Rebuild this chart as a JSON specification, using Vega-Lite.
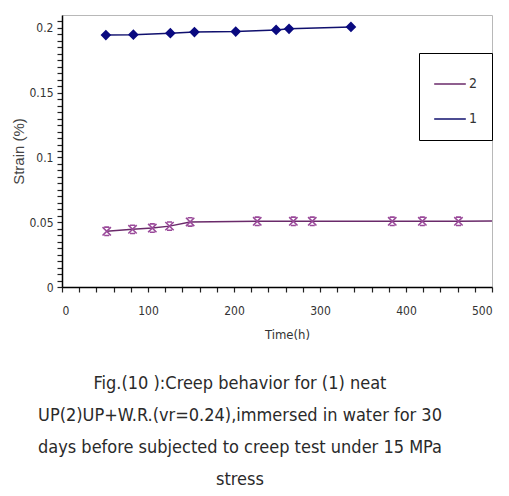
{
  "$schema": "https://vega.github.io/schema/vega-lite/v6.json",
  "width": 430,
  "height": 272,
  "autosize": {"type": "none"},
  "padding": {"left": 62, "top": 15, "right": 17, "bottom": 209},
  "background": "white",
  "config": {
    "view": {"stroke": "#b8b8b8", "strokeWidth": 1},
    "font": "DejaVu Sans Condensed, Liberation Sans, sans-serif"
  },
  "title": {
    "text": ["Fig.(10 ):Creep behavior for (1) neat", "UP(2)UP+W.R.(vr=0.24),immersed in water for 30", "days before subjected to creep test under 15 MPa", "stress"],
    "orient": "bottom",
    "anchor": "middle",
    "dx": -37,
    "offset": 34,
    "font": "DejaVu Sans Condensed, Liberation Sans, sans-serif",
    "fontSize": 18,
    "fontWeight": "normal",
    "color": "#2a2a2a",
    "lineHeight": 32
  },
  "data": {
    "values": [
      {"time": 51, "strain": 0.1945, "sample": "1"},
      {"time": 83, "strain": 0.1948, "sample": "1"},
      {"time": 126, "strain": 0.196, "sample": "1"},
      {"time": 154, "strain": 0.1968, "sample": "1"},
      {"time": 202, "strain": 0.1972, "sample": "1"},
      {"time": 249, "strain": 0.1985, "sample": "1"},
      {"time": 264, "strain": 0.1993, "sample": "1"},
      {"time": 336, "strain": 0.2008, "sample": "1"},
      {"time": 52, "strain": 0.043, "sample": "2"},
      {"time": 82, "strain": 0.0445, "sample": "2"},
      {"time": 105, "strain": 0.0455, "sample": "2"},
      {"time": 125, "strain": 0.047, "sample": "2"},
      {"time": 149, "strain": 0.0502, "sample": "2"},
      {"time": 227, "strain": 0.0507, "sample": "2"},
      {"time": 269, "strain": 0.0507, "sample": "2"},
      {"time": 291, "strain": 0.0507, "sample": "2"},
      {"time": 384, "strain": 0.0507, "sample": "2"},
      {"time": 419, "strain": 0.0507, "sample": "2"},
      {"time": 461, "strain": 0.0507, "sample": "2"},
      {"time": 500, "strain": 0.051, "sample": "2"}
    ]
  },
  "encoding": {
    "x": {
      "field": "time",
      "type": "quantitative",
      "scale": {"domain": [0, 500], "nice": false},
      "axis": {
        "title": "Time(h)",
        "titleFont": "DejaVu Sans Condensed, Liberation Sans, sans-serif",
        "titleFontSize": 13,
        "titleFontWeight": "normal",
        "titleColor": "#333",
        "titlePadding": 12,
        "titleX": 225,
        "values": [0, 20, 40, 60, 80, 100, 120, 140, 160, 180, 200, 220, 240, 260, 280, 300, 320, 340, 360, 380, 400, 420, 440, 460, 480, 500],
        "labelExpr": "datum.value % 100 == 0 ? format(datum.value, 'd') : ''",
        "labelOverlap": false,
        "labelFont": "DejaVu Sans Condensed, Liberation Sans, sans-serif",
        "labelFontSize": 12,
        "labelColor": "#333",
        "labelPadding": 13,
        "grid": false,
        "domainColor": "#000",
        "domainWidth": 1.5,
        "tickColor": "#222",
        "tickWidth": 1.2,
        "tickSize": 5
      }
    },
    "y": {
      "field": "strain",
      "type": "quantitative",
      "scale": {"domain": [0, 0.21], "nice": false},
      "axis": {
        "title": "Strain (%)",
        "titleFont": "Liberation Sans",
        "titleFontSize": 15,
        "titleFontWeight": "normal",
        "titleColor": "#444",
        "titlePadding": 2,
        "values": [0, 0.005, 0.01, 0.015, 0.02, 0.025, 0.03, 0.035, 0.04, 0.045, 0.05, 0.055, 0.06, 0.065, 0.07, 0.075, 0.08, 0.085, 0.09, 0.095, 0.1, 0.105, 0.11, 0.115, 0.12, 0.125, 0.13, 0.135, 0.14, 0.145, 0.15, 0.155, 0.16, 0.165, 0.17, 0.175, 0.18, 0.185, 0.19, 0.195, 0.2, 0.205],
        "labelExpr": "abs(datum.value * 20 - round(datum.value * 20)) < 0.000001 ? format(datum.value, '~g') : ''",
        "labelOverlap": false,
        "labelFont": "DejaVu Sans Condensed, Liberation Sans, sans-serif",
        "labelFontSize": 12,
        "labelColor": "#333",
        "labelPadding": 4,
        "grid": false,
        "domainColor": "#000",
        "domainWidth": 1.5,
        "tickColor": "#222",
        "tickWidth": 1.2,
        "tickSize": 5
      }
    }
  },
  "layer": [
    {
      "mark": {"type": "line", "strokeWidth": 1.5},
      "encoding": {
        "color": {
          "field": "sample",
          "type": "nominal",
          "scale": {"domain": ["2", "1"], "range": ["#6a2a6a", "#10106e"]},
          "legend": {
            "title": null,
            "orient": "none",
            "legendX": 357,
            "legendY": 38,
            "symbolType": "stroke",
            "symbolSize": 1000,
            "symbolStrokeWidth": 1.5,
            "labelFont": "DejaVu Sans Condensed, Liberation Sans, sans-serif",
            "labelFontSize": 14,
            "labelColor": "#333",
            "labelOffset": 2,
            "rowPadding": 11,
            "padding": 14,
            "strokeColor": "#000",
            "fillColor": "white"
          }
        }
      }
    },
    {
      "transform": [{"filter": "datum.time < 500"}],
      "mark": {"type": "point", "strokeWidth": 1.6, "opacity": 1},
      "encoding": {
        "shape": {
          "field": "sample",
          "type": "nominal",
          "scale": {"domain": ["1", "2"], "range": ["diamond", "M-1,-1L1,1M1,-1L-1,1M-0.6,-1L0.6,-1M-0.6,1L0.6,1"]},
          "legend": null
        },
        "fill": {
          "field": "sample",
          "type": "nominal",
          "scale": {"domain": ["1", "2"], "range": ["#0a0a80", "transparent"]},
          "legend": null
        },
        "stroke": {
          "field": "sample",
          "type": "nominal",
          "scale": {"domain": ["1", "2"], "range": ["#0a0a80", "#9a4a9a"]},
          "legend": null
        },
        "size": {"value": 70}
      }
    }
  ]
}
